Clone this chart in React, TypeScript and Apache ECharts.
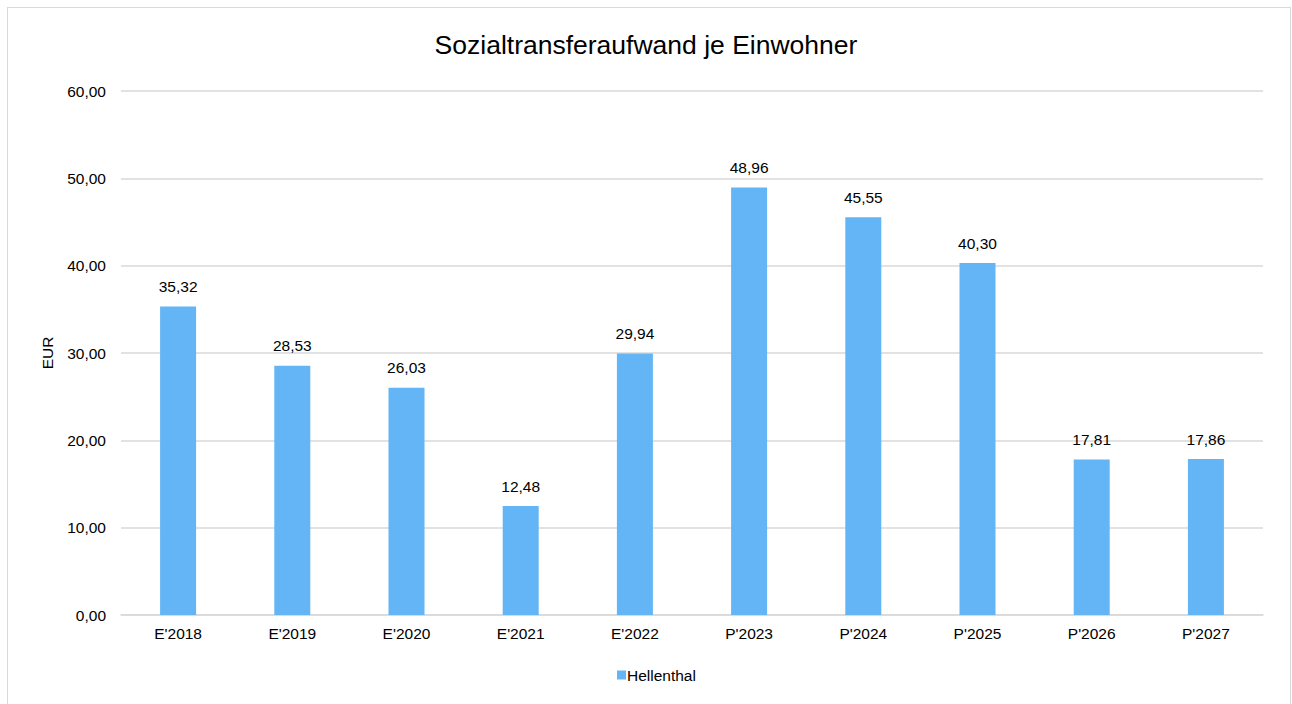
import React, { useEffect, useRef } from "react";
import * as echarts from "echarts";

const categories = ["E'2018", "E'2019", "E'2020", "E'2021", "E'2022", "P'2023", "P'2024", "P'2025", "P'2026", "P'2027"];
const values = [35.32, 28.53, 26.03, 12.48, 29.94, 48.96, 45.55, 40.3, 17.81, 17.86];
const seriesName = "Hellenthal";
const fmt = (v: number) => v.toFixed(2).replace(".", ",");

export default function App() {
  const ref = useRef<HTMLDivElement>(null);
  useEffect(() => {
    const chart = echarts.init(ref.current!, null, { renderer: "svg" });
    const font = "'Liberation Sans', Arial, sans-serif";
    const fs = 15.5;
    chart.setOption({
      animation: false,
      textStyle: { fontFamily: font },
      title: {
        text: "Sozialtransferaufwand je Einwohner",
        left: "center",
        top: 26,
        textStyle: { fontSize: 26.5, fontWeight: "normal", color: "#000000", fontFamily: font },
      },
      legend: {
        bottom: 16,
        left: 612,
        itemWidth: 9,
        itemHeight: 9,
        itemGap: 4,
        icon: "rect",
        textStyle: { fontSize: fs, color: "#000000", fontFamily: font, padding: [0, 0, 0, -4] },
        data: [seriesName],
      },
      grid: { left: 121, right: 29, top: 91, bottom: 89, containLabel: false },
      xAxis: {
        type: "category",
        data: categories,
        axisLine: { lineStyle: { color: "#d9d9d9", width: 1.5 } },
        axisTick: { show: false },
        axisLabel: { color: "#000000", fontSize: fs, margin: 10, fontFamily: font },
      },
      yAxis: {
        type: "value",
        min: 0,
        max: 60,
        interval: 10,
        name: "EUR",
        nameLocation: "middle",
        nameGap: 66,
        nameRotate: 90,
        nameTextStyle: { color: "#000000", fontSize: fs, fontFamily: font },
        axisLine: { show: false },
        axisTick: { show: false },
        splitLine: { lineStyle: { color: "#d9d9d9", width: 1.5 } },
        axisLabel: { color: "#000000", fontSize: fs, margin: 15, formatter: (v: number) => fmt(v), fontFamily: font },
      },
      series: [
        {
          name: seriesName,
          type: "bar",
          data: values,
          barWidth: 36,
          itemStyle: { color: "#63b5f5" },
          label: {
            show: true,
            position: "top",
            distance: 12,
            color: "#000000",
            fontSize: fs,
            fontFamily: font,
            formatter: (p: any) => fmt(p.value),
          },
        },
      ],
    });
    return () => chart.dispose();
  }, []);
  return (
    <div style={{ position: "absolute", left: 0, top: 0, width: 1292, height: 704, overflow: "hidden", background: "#fff" }}>
      <div ref={ref} style={{ position: "absolute", left: 0, top: 0, width: 1292, height: 704 }} />
      <div style={{ position: "absolute", left: 7, top: 7, width: 1284, height: 720, border: "1.5px solid #d9d9d9", boxSizing: "border-box", pointerEvents: "none" }} />
    </div>
  );
}
